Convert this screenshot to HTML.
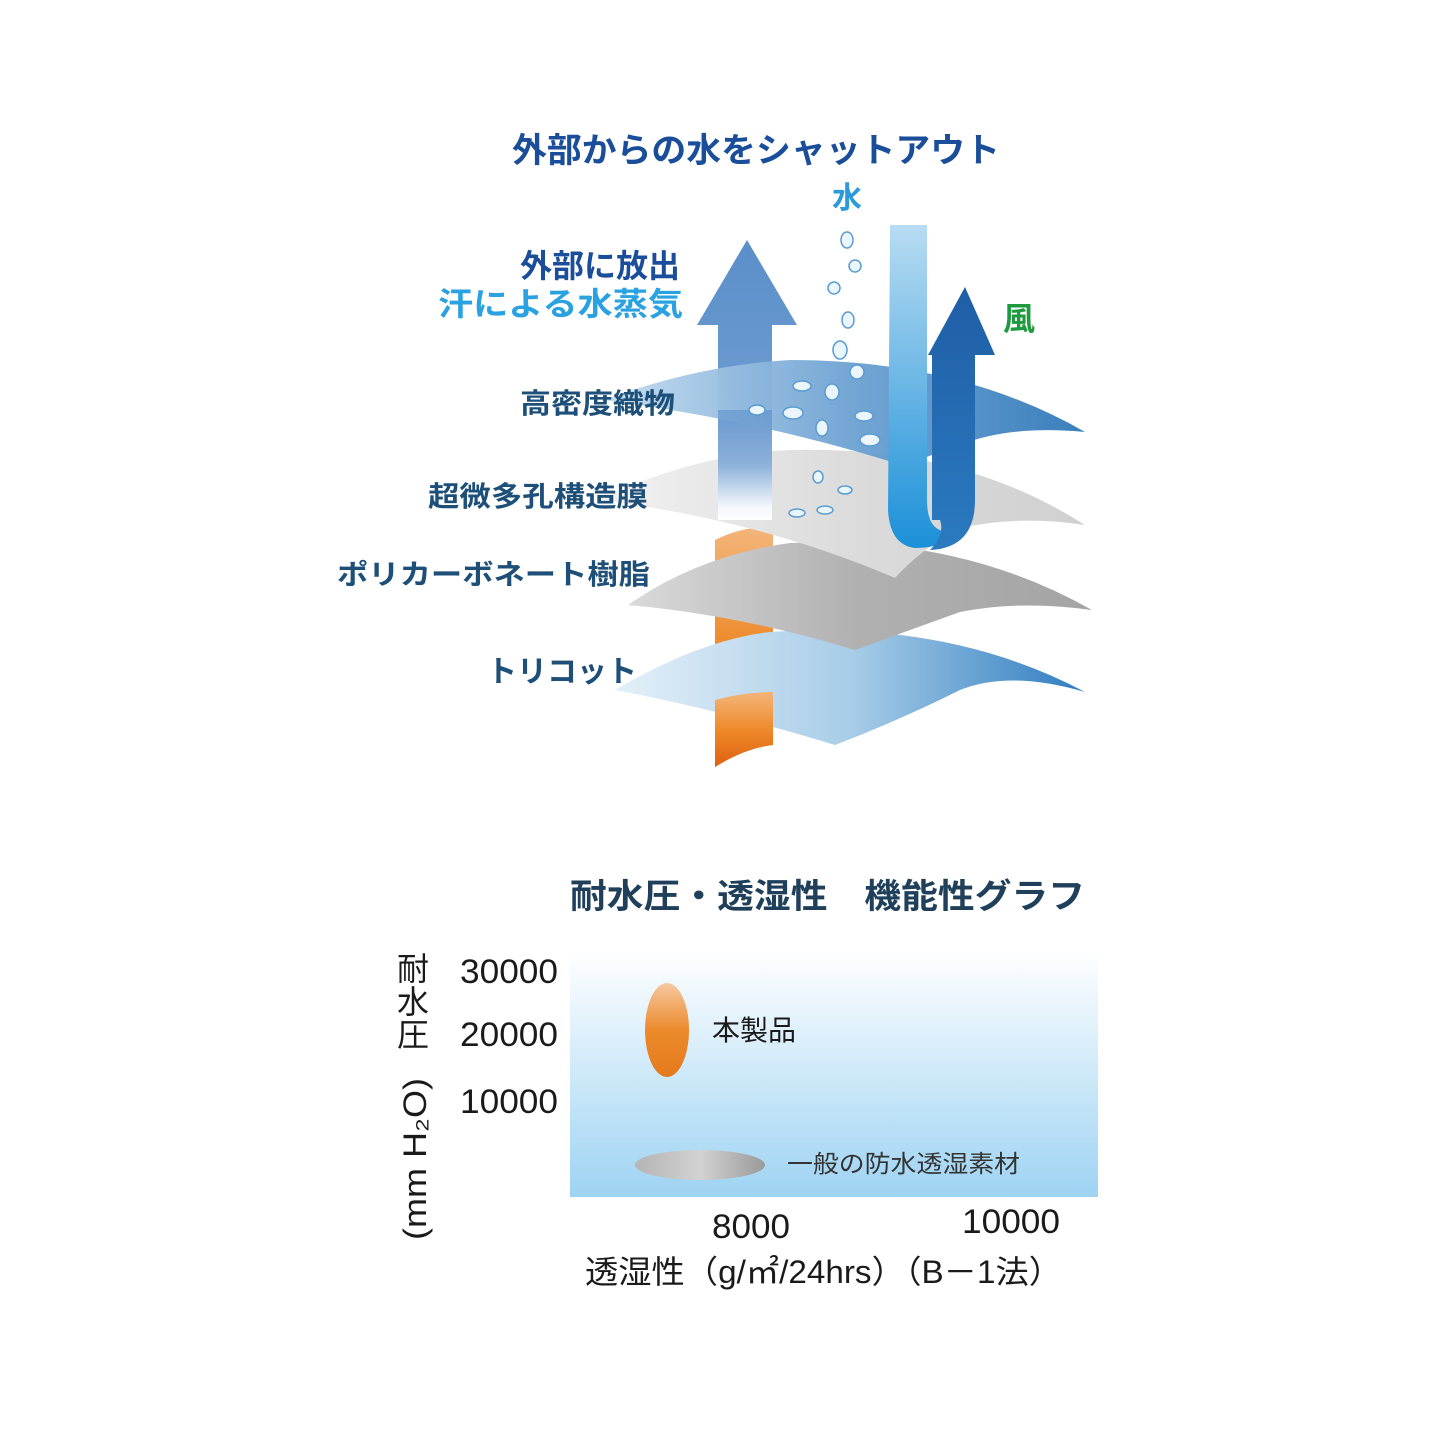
<!DOCTYPE html>
<html><head><meta charset="utf-8"><style>
html,body{margin:0;padding:0;background:#fff}
svg{display:block}
text{font-family:"Liberation Sans","Noto Sans CJK JP",sans-serif}
</style></head><body>
<svg width="1445" height="1445" viewBox="0 0 1445 1445" xmlns="http://www.w3.org/2000/svg">
<defs>
<linearGradient id="s1" x1="0" y1="0" x2="1" y2="0"><stop offset="0" stop-color="#c4dcef"/><stop offset="0.5" stop-color="#6fa3d3"/><stop offset="1" stop-color="#2f78b8"/></linearGradient>
<linearGradient id="s2" x1="0" y1="0" x2="1" y2="0"><stop offset="0" stop-color="#f2f2f2"/><stop offset="0.5" stop-color="#dcdcdc"/><stop offset="1" stop-color="#d0d0d0"/></linearGradient>
<linearGradient id="s3" x1="0" y1="0" x2="1" y2="0"><stop offset="0" stop-color="#dadada"/><stop offset="0.5" stop-color="#b0b0b0"/><stop offset="1" stop-color="#a4a4a4"/></linearGradient>
<linearGradient id="s4" x1="0" y1="0" x2="1" y2="0"><stop offset="0" stop-color="#e4f0f8"/><stop offset="0.5" stop-color="#a8cde8"/><stop offset="1" stop-color="#2f7cc0"/></linearGradient>
<linearGradient id="up" x1="0" y1="0" x2="0" y2="1"><stop offset="0" stop-color="#5b8fc9"/><stop offset="0.55" stop-color="#6b9ad0"/><stop offset="1" stop-color="#ffffff"/></linearGradient>
<linearGradient id="or" x1="0" y1="0" x2="0" y2="1"><stop offset="0" stop-color="#f3b57a"/><stop offset="0.5" stop-color="#ee8a2a"/><stop offset="1" stop-color="#e0600f"/></linearGradient>
<linearGradient id="wt" x1="0" y1="0" x2="0" y2="1"><stop offset="0" stop-color="#b8dcf2"/><stop offset="1" stop-color="#1b90d8"/></linearGradient>
<linearGradient id="wd" x1="0" y1="0" x2="0" y2="1"><stop offset="0" stop-color="#1f5ea6"/><stop offset="1" stop-color="#2b7ac0"/></linearGradient>
<linearGradient id="ch" x1="0" y1="0" x2="0" y2="1"><stop offset="0" stop-color="#ffffff"/><stop offset="1" stop-color="#9ed3f3"/></linearGradient>
<linearGradient id="oe" x1="0" y1="0" x2="0" y2="1"><stop offset="0" stop-color="#f5c9a0"/><stop offset="0.5" stop-color="#ec8a2c"/><stop offset="1" stop-color="#e47a1c"/></linearGradient>
<linearGradient id="ge" x1="0" y1="0" x2="1" y2="0"><stop offset="0" stop-color="#b4b4b4"/><stop offset="0.5" stop-color="#d2d2d2"/><stop offset="1" stop-color="#9a9a9a"/></linearGradient>
</defs>

<path d="M715 540 Q745 525 773 528 L773 745 Q745 748 715 767 Z" fill="url(#or)"/>

<path d="M615 690 Q700 640 770 632 Q950 620 1085 692 Q1010 670 960 690 Q900 720 835 745 Q720 710 615 690 Z" fill="url(#s4)"/>
<path d="M715 700 Q745 692 773 692 L773 745 Q745 748 715 767 Z" fill="url(#or)"/>
<path d="M628 605 Q700 555 790 543 Q960 535 1092 610 Q1020 600 960 612 Q910 630 855 650 Q740 615 628 605 Z" fill="url(#s3)"/>
<path d="M600 500 Q690 455 790 450 Q960 445 1085 525 Q1020 515 960 528 Q920 550 895 578 Q760 520 600 500 Z" fill="url(#s2)"/>

<path d="M718 520 L718 325 L697 325 L747 240 L797 325 L772 325 L772 520 Z" fill="url(#up)"/>

<path d="M603 400 Q700 365 790 360 Q960 360 1085 432 Q1010 425 960 445 Q930 455 905 466 Q760 420 603 400 Z" fill="url(#s1)" opacity="0.95"/>
<path d="M718 410 L772 410 L772 510 L718 510 Z" fill="url(#up)" opacity="0.6"/>

<path d="M890 225 L927 225 L927 500 Q927 525 940 530 L950 540 Q935 548 915 548 Q890 545 888 510 Z" fill="url(#wt)"/>
<path d="M932 520 L932 355 L928 355 L965 287 L995 355 L975 355 L975 500 Q975 548 930 550 Q945 535 940 520 Z" fill="url(#wd)"/>

<g fill="#eaf5fc" stroke="#5a9cd0" stroke-width="1.5">
<ellipse cx="847" cy="240" rx="6" ry="8"/><ellipse cx="855" cy="266" rx="6" ry="6"/><ellipse cx="834" cy="288" rx="6" ry="6"/>
<ellipse cx="848" cy="320" rx="6" ry="8"/><ellipse cx="840" cy="350" rx="7" ry="9"/><ellipse cx="857" cy="372" rx="7" ry="7"/>
<ellipse cx="802" cy="386" rx="9" ry="5"/><ellipse cx="832" cy="392" rx="7" ry="8"/><ellipse cx="757" cy="410" rx="8" ry="5"/>
<ellipse cx="793" cy="413" rx="10" ry="6"/><ellipse cx="864" cy="416" rx="9" ry="5"/><ellipse cx="822" cy="428" rx="6" ry="8"/>
<ellipse cx="870" cy="440" rx="10" ry="6"/><ellipse cx="818" cy="477" rx="5" ry="6"/><ellipse cx="845" cy="490" rx="7" ry="4"/>
<ellipse cx="797" cy="513" rx="8" ry="4"/><ellipse cx="825" cy="510" rx="8" ry="4"/>
</g>

<g font-weight="bold">
<text x="512" y="162" font-size="34" fill="#1b4e9a" textLength="488" lengthAdjust="spacingAndGlyphs">外部からの水をシャットアウト</text>
<text x="832" y="208" font-size="30" fill="#2a9bd8">水</text>
<text x="680" y="277" font-size="32" fill="#1b4e9a" text-anchor="end">外部に放出</text>
<text x="438" y="315" font-size="32" fill="#2aa2e2" textLength="245" lengthAdjust="spacingAndGlyphs">汗による水蒸気</text>
<text x="1003" y="330" font-size="32" fill="#1f9a40">風</text>
<text x="520" y="413" font-size="28" fill="#1d4f78" textLength="155" lengthAdjust="spacingAndGlyphs">高密度織物</text>
<text x="428" y="506" font-size="28" fill="#1d4f78" textLength="220" lengthAdjust="spacingAndGlyphs">超微多孔構造膜</text>
<text x="337" y="584" font-size="28" fill="#1d4f78" textLength="313" lengthAdjust="spacingAndGlyphs">ポリカーボネート樹脂</text>
<text x="487" y="682" font-size="30" fill="#1d4f78" textLength="150" lengthAdjust="spacingAndGlyphs">トリコット</text>
<text x="570" y="908" font-size="34" fill="#1f3f5a" textLength="515" lengthAdjust="spacingAndGlyphs">耐水圧・透湿性　機能性グラフ</text>
</g>

<rect x="570" y="950" width="528" height="247" fill="url(#ch)"/>
<ellipse cx="667" cy="1030" rx="22" ry="47" fill="url(#oe)"/>
<ellipse cx="700" cy="1165" rx="65" ry="15" fill="url(#ge)"/>
<g fill="#1a1a1a">
<text x="712" y="1040" font-size="28">本製品</text>
<text x="787" y="1172" font-size="24" fill="#333" textLength="233" lengthAdjust="spacingAndGlyphs">一般の防水透湿素材</text>
<text x="460" y="983" font-size="34" textLength="98" lengthAdjust="spacingAndGlyphs">30000</text>
<text x="460" y="1046" font-size="34" textLength="98" lengthAdjust="spacingAndGlyphs">20000</text>
<text x="460" y="1113" font-size="34" textLength="98" lengthAdjust="spacingAndGlyphs">10000</text>
<text x="397" y="980" font-size="32">耐</text>
<text x="397" y="1013" font-size="32">水</text>
<text x="397" y="1046" font-size="32">圧</text>
<text transform="translate(426,1240) rotate(-90)" font-size="32" textLength="162" lengthAdjust="spacingAndGlyphs">(mm H₂O)</text>
<text x="712" y="1238" font-size="34" textLength="78" lengthAdjust="spacingAndGlyphs">8000</text>
<text x="962" y="1233" font-size="34" textLength="98" lengthAdjust="spacingAndGlyphs">10000</text>
<text x="585" y="1283" font-size="32" textLength="477" lengthAdjust="spacingAndGlyphs">透湿性（g/㎡/24hrs）（B－1法）</text>
</g>
</svg>
</body></html>
